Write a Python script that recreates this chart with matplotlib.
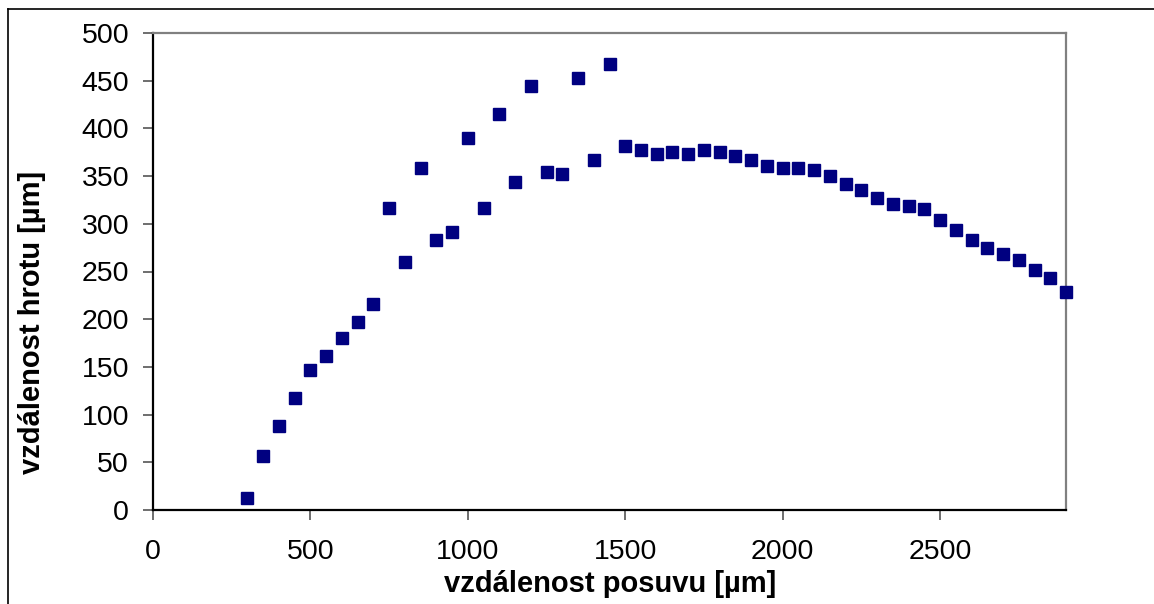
import matplotlib.pyplot as plt
from matplotlib.lines import Line2D

plt.rcParams["font.family"] = ["Liberation Sans", "DejaVu Sans"]

# distance of feed [um] vs distance of tip [um]
posuv = [300, 350, 400, 450, 500, 550, 600, 650, 700, 750, 800, 850, 900, 950,
         1000, 1050, 1100, 1150, 1200, 1250, 1300, 1350, 1400, 1450, 1500, 1550,
         1600, 1650, 1700, 1750, 1800, 1850, 1900, 1950, 2000, 2050, 2100, 2150,
         2200, 2250, 2300, 2350, 2400, 2450, 2500, 2550, 2600, 2650, 2700, 2750,
         2800, 2850, 2900]
hrot = [13, 57, 88, 117, 147, 161, 180, 197, 216, 317, 260, 359, 283, 291,
        390, 317, 415, 344, 444, 354, 352, 453, 367, 468, 382, 377,
        373, 375, 373, 377, 375, 371, 367, 361, 359, 359, 356, 350,
        342, 335, 327, 321, 319, 315, 304, 294, 283, 275, 268, 262,
        252, 243, 228]

xticks = [0, 500, 1000, 1500, 2000, 2500]
yticks = [0, 50, 100, 150, 200, 250, 300, 350, 400, 450, 500]

fig = plt.figure(figsize=(11.54, 6.04), dpi=100)
ax = fig.add_axes([153/1154, 1 - 510/604, (1066-153)/1154, (510-33)/604])

ax.plot(posuv, hrot, ls="none", marker="s", ms=8.6, color="#000080",
        mec="#000080", clip_on=False, zorder=5)

ax.set_xlim(0, 2900)
ax.set_ylim(0, 500)
ax.set_xticks(xticks)
ax.set_yticks(yticks)
ax.tick_params(labelsize=20.5, length=7.2, width=1.2, color="#555555", direction="out")
ax.tick_params(axis="y", pad=10)
ax.tick_params(axis="x", pad=14)

for s in ["left", "bottom"]:
    ax.spines[s].set_color("black")
    ax.spines[s].set_linewidth(1.6)
for s in ["top", "right"]:
    ax.spines[s].set_color("#808080")
    ax.spines[s].set_linewidth(1.6)

fig.text(610/1154, 1 - 592/604, "vzdálenost posuvu [µm]", fontsize=21,
         fontweight="bold", ha="center", va="baseline")
fig.text(32/1154, 1 - 322/604, "vzdálenost hrotu [µm]", fontsize=21,
         fontweight="bold", ha="center", va="center", rotation=90)

# outer chart frame (left + top)
fig.add_artist(Line2D([8/1154, 8/1154], [0, 1 - 9/604], color="black", lw=1.2))
fig.add_artist(Line2D([8/1154, 1], [1 - 9/604, 1 - 9/604], color="black", lw=1.2))

fig.savefig("out.png", dpi=100)
